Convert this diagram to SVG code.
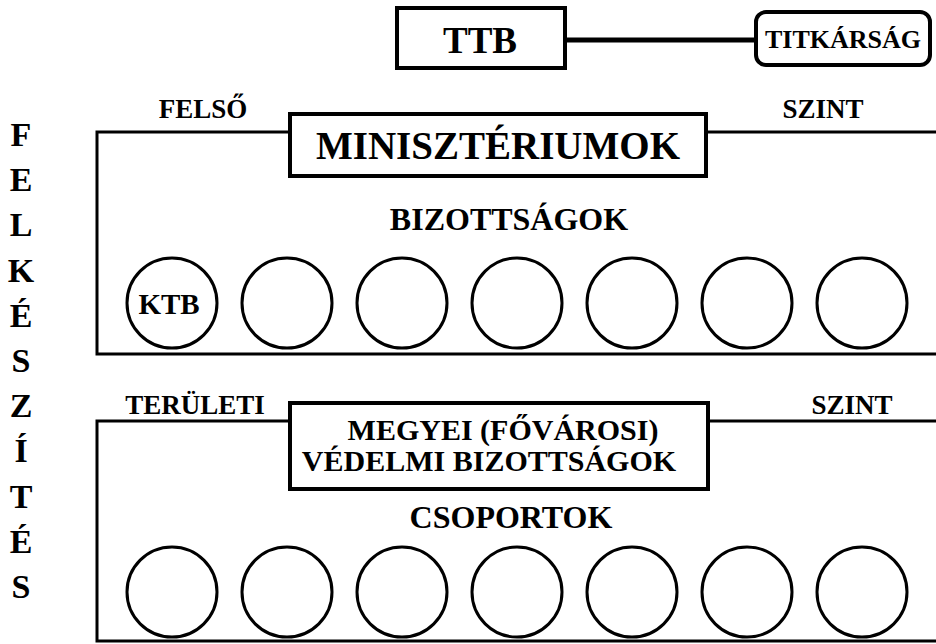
<svg xmlns="http://www.w3.org/2000/svg" width="936" height="644" viewBox="0 0 936 644">
<style>
text{font-family:"Liberation Serif",Tinos,"Times New Roman",serif;font-weight:bold;fill:#000;text-anchor:middle}
.box{fill:#fff;stroke:#000;stroke-width:4}
.ln{fill:none;stroke:#000;stroke-width:3}
.c{fill:#fff;stroke:#000;stroke-width:3}
.side{font-size:34px}
.lbl{font-size:27px}
</style>
<rect width="936" height="644" fill="#fff"/>
<g id="connectors">
<line x1="565" y1="40" x2="757" y2="40" stroke="#000" stroke-width="5"/>
<path class="ln" d="M290 132 H97 V354 H936"/>
<path class="ln" d="M706 132 H936"/>
<path class="ln" d="M290 421 H97 V641 H936"/>
<path class="ln" d="M708 421 H936"/>
</g>
<g id="ttb"><rect class="box" x="397" y="8" width="168" height="60"/><text x="480" y="53" font-size="37">TTB</text></g>
<g id="titkarsag"><rect class="box" x="756" y="12" width="174" height="53" rx="10"/><text x="843" y="48" font-size="26">TITKÁRSÁG</text></g>
<g id="felso-szint"><text class="lbl" x="203" y="118" font-size="28">FELSŐ</text><text class="lbl" x="823" y="118">SZINT</text></g>
<g id="minisztériumok"><rect class="box" x="290" y="114" width="416" height="62"/><text x="498" y="159" font-size="39">MINISZTÉRIUMOK</text></g>
<g id="bizottsagok"><text x="509" y="230" font-size="32">BIZOTTSÁGOK</text></g>
<g id="upper-circles">
<ellipse class="c" cx="172" cy="303" rx="45" ry="45"/><text x="169" y="314" font-size="29">KTB</text>
<ellipse class="c" cx="287" cy="303" rx="45" ry="45"/>
<ellipse class="c" cx="402" cy="303" rx="45" ry="45"/>
<ellipse class="c" cx="517" cy="303" rx="45" ry="45"/>
<ellipse class="c" cx="632" cy="303" rx="45" ry="45"/>
<ellipse class="c" cx="747" cy="303" rx="45" ry="45"/>
<ellipse class="c" cx="862" cy="303" rx="45" ry="45"/>
</g>
<g id="teruleti-szint"><text class="lbl" x="195" y="414" font-size="28">TERÜLETI</text><text class="lbl" x="852" y="414">SZINT</text></g>
<g id="megyei"><rect class="box" x="290" y="403" width="418" height="86"/><text x="503" y="440" font-size="30">MEGYEI (FŐVÁROSI)</text><text x="489" y="471" font-size="30">VÉDELMI BIZOTTSÁGOK</text></g>
<g id="csoportok"><text x="511" y="528" font-size="32">CSOPORTOK</text></g>
<g id="lower-circles">
<ellipse class="c" cx="172" cy="592" rx="45" ry="45"/>
<ellipse class="c" cx="287" cy="592" rx="45" ry="45"/>
<ellipse class="c" cx="402" cy="592" rx="45" ry="45"/>
<ellipse class="c" cx="517" cy="592" rx="45" ry="45"/>
<ellipse class="c" cx="632" cy="592" rx="45" ry="45"/>
<ellipse class="c" cx="747" cy="592" rx="45" ry="45"/>
<ellipse class="c" cx="862" cy="592" rx="45" ry="45"/>
</g>
<g id="felkeszites" class="side">
<text x="21" y="146">F</text><text x="21" y="191">E</text><text x="21" y="236">L</text><text x="21" y="282">K</text><text x="21" y="327">É</text><text x="21" y="372">S</text><text x="21" y="417">Z</text><text x="21" y="462">Í</text><text x="21" y="508">T</text><text x="21" y="553">É</text><text x="21" y="598">S</text>
</g>
</svg>
